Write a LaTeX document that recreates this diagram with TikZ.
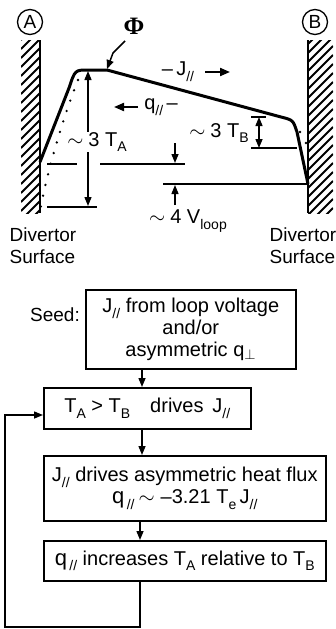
\documentclass[tikz,border=0pt]{standalone}
\usepackage{fontspec}
\setmainfont{Liberation Sans}
\newfontfamily\phifont{Liberation Serif}
\usetikzlibrary{arrows.meta}
\newcommand\lo[1]{\raisebox{-0.55ex}{\fontsize{14}{14}\selectfont #1}}
\newcommand\tld{$\sim$\hspace{5pt}}
\newcommand\bq{{\fontsize{22}{22}\selectfont q}}
\begin{document}
\begin{tikzpicture}[x=1pt,y=-1pt,
  tip/.style={-{Triangle[width=7pt,length=9pt]}},
  dtip/.style={{Triangle[width=7pt,length=9pt]}-{Triangle[width=7pt,length=9pt]}},
  dim/.style={line width=1.4pt},
  hatch/.style={line width=1.8pt},
  box/.style={draw,line width=1.6pt,inner sep=2pt,align=center,font=\fontsize{20}{22}\selectfont},
  lbl/.style={font=\fontsize{20}{22}\selectfont,inner sep=0.5pt},
  flow/.style={line width=1.4pt,-{Triangle[width=7pt,length=9pt]}}]
\useasboundingbox (0,0) rectangle (336,629);

% walls
\draw[hatch] (40,40) -- (40,213);
\begin{scope}
  \clip (21,40) rectangle (40,213);
  \foreach \y in {40,49,...,240} \draw[hatch] (21,\y) -- (40,\y-19);
\end{scope}
\draw[hatch] (308,40) -- (308,213);
\begin{scope}
  \clip (308,40) rectangle (333,213);
  \foreach \y in {44,53,...,250} \draw[hatch] (308,\y) -- (333,\y-25);
\end{scope}
\node[draw,circle,line width=1.3pt,minimum size=25pt,inner sep=0pt,font=\fontsize{19}{19}\selectfont] (A) at (30,22) {A};
\node[draw,circle,line width=1.3pt,minimum size=25pt,inner sep=0pt,font=\fontsize{19}{19}\selectfont] (B) at (315,22) {B};

% potential curve
\draw[line width=3pt,line join=round] (40,162) -- (69,88) .. controls (75,70) .. (88,70) -- (107,70) -- (281,117) .. controls (293,120) .. (297,132) -- (308,184);
\draw[line width=2.6pt,line cap=round,dash pattern=on 0pt off 11pt] (78,80) .. controls (62,120) and (45,180) .. (40,212);
\fill (293,122) circle (1.4) (300,132) circle (1.4) (306,143) circle (1.4);

% Phi pointer
\node[font=\phifont\bfseries\fontsize{25}{25}\selectfont,inner sep=0pt] (phi) at (134,26) {Φ};
\coordinate (p1) at (125,41);
\coordinate (p2) at (113,53);
\coordinate (p3) at (107,69);
\draw[line width=1.5pt,tip] (p1) -- (p2) -- (p3);

% T_A dimension
\coordinate (ta1) at (88,71);
\coordinate (ta2) at (88,206);
\draw[dim,dtip] (ta1) -- (ta2);
\node[lbl,fill=white] (ta) at (97,142) {\tld 3 T\lo{A}};
\draw[dim] (47,164) -- (77,164);
\draw[dim] (100,164) -- (185,164);
\draw[dim] (47,207) -- (97,207);

% V_loop
\coordinate (v1) at (175,143);
\coordinate (v2) at (175,163);
\coordinate (v3) at (175,205);
\coordinate (v4) at (175,185);
\draw[dim,tip] (v1) -- (v2);
\draw[dim,tip] (v3) -- (v4);
\draw[dim] (163,184) -- (308,184);
\node[lbl] (vl) at (188,221) {\tld 4 V\lo{loop}};

% T_B dimension
\coordinate (tb1) at (259,117);
\coordinate (tb2) at (259,148);
\draw[dim,dtip] (tb1) -- (tb2);
\draw[dim] (251,117) -- (266,117);
\draw[dim] (251,148) -- (297,148);
\node[lbl] (tb) at (219,133) {\tld 3 T\lo{B}};

% J and q
\node[lbl] (J) at (178,72) {–\,J\lo{//}};
\coordinate (j1) at (205,72);
\coordinate (j2) at (230,72);
\draw[line width=2pt,-{Triangle[width=8pt,length=10pt]}] (j1) -- (j2);
\node[lbl] (q) at (161,107) {q\lo{//}\,–};
\coordinate (q1) at (138,107);
\coordinate (q2) at (114,107);
\draw[line width=2pt,-{Triangle[width=8pt,length=10pt]}] (q1) -- (q2);

% Divertor labels
\node[lbl,anchor=west,align=left,font=\fontsize{19}{22}\selectfont] (dl) at (9,246) {Divertor\\Surface};
\node[lbl,anchor=west,align=left,font=\fontsize{19}{22}\selectfont] (dr) at (269,246) {Divertor\\Surface};

% flowchart
\node[lbl,font=\fontsize{19}{22}\selectfont] (seedl) at (55,315) {Seed:};
\node[box,anchor=north west,minimum width=210pt,minimum height=79pt] (seed) at (85,289)
  {J\lo{//} from loop voltage\\and/or\\asymmetric q$_\perp$};
\node[box,anchor=north west,minimum width=207pt,minimum height=41pt] (b2) at (43,387)
  {T\lo{A} > T\lo{B}\quad drives\, J\lo{//}};
\node[box,anchor=north west,minimum width=282pt,minimum height=65pt] (b3) at (43,455)
  {J\lo{//} drives asymmetric heat flux\\\bq\lo{\,//}\hspace{4pt}$\sim$\hspace{6pt}–3.21 T\lo{e}\,J\lo{//}};
\node[box,anchor=north west,minimum width=282pt,minimum height=40pt] (b4) at (43,540)
  {\bq\lo{\,//} increases T\lo{A} relative to T\lo{B}};

\draw[flow] (seed.south -| 142,0) -- (b2.north -| 142,0);
\draw[flow] (b2.south -| 142,0) -- (b3.north -| 142,0);
\draw[flow] (b3.south -| 140,0) -- (b4.north -| 140,0);
\coordinate (c1) at (140,627);
\coordinate (c2) at (5,627);
\coordinate (c3) at (5,415);
\draw[flow] (b4.south -| 140,0) -- (c1) -- (c2) -- (c3) -- (c3 -| b2.west);
\end{tikzpicture}
\end{document}
